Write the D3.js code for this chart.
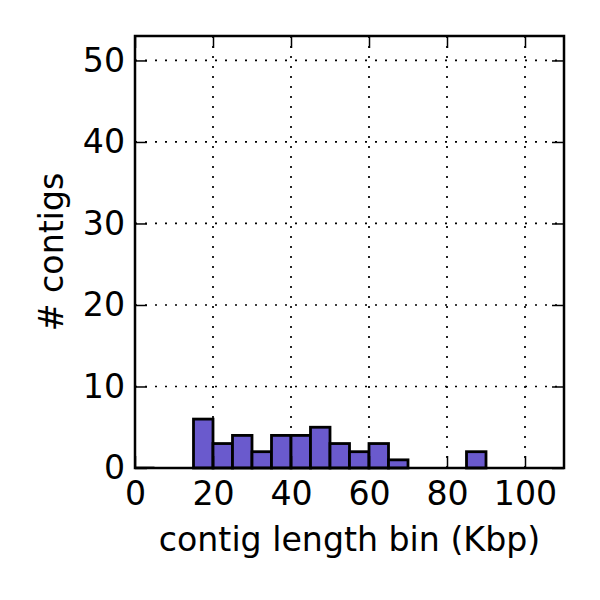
<!DOCTYPE html>
<html><head><meta charset="utf-8">
<script src="https://cdn.jsdelivr.net/npm/d3@7"></script>
<style>body{margin:0;background:#fff}svg{display:block}text{font-family:"DejaVu Sans",sans-serif;fill:#000}</style>
</head><body>
<svg id="c" width="600" height="600"></svg>
<script>
const binStarts = [0,5,10,15,20,25,30,35,40,45,50,55,60,65,70,75,80,85,90,95,100,105];
const counts    = [0,0,0,6,3,4,2,4,4,5,3,2,3,1,0,0,0,2,0,0,0,0];
const binWidth = 5;
const xTicks = [0,20,40,60,80,100];
const yTicks = [0,10,20,30,40,50];
const xLabel = "contig length bin (Kbp)";
const yLabel = "# contigs";

const L=135,R=564,T=36,B=468;
const FS=33.2;
const svg=d3.select("#c");
const x=d3.scaleLinear().domain([0,110]).range([L,R]);
const y=d3.scaleLinear().domain([0,53]).range([B,T]);

// grid
const g=svg.append("g");
xTicks.forEach(t=>{ if(t>0) g.append("line").attr("x1",x(t)).attr("x2",x(t)).attr("y1",T).attr("y2",B)
  .attr("stroke","#000").attr("stroke-width",1.7).attr("stroke-dasharray","2,8"); });
yTicks.forEach(t=>{ if(t>0) g.append("line").attr("y1",y(t)).attr("y2",y(t)).attr("x1",L).attr("x2",R)
  .attr("stroke","#000").attr("stroke-width",1.7).attr("stroke-dasharray","2,8"); });

// bars
const data=binStarts.map((s,i)=>({s,v:counts[i]}));
svg.append("g").selectAll("rect").data(data.filter(d=>d.v>0)).join("rect")
  .attr("x",d=>x(d.s)).attr("width",d=>x(d.s+binWidth)-x(d.s))
  .attr("y",d=>y(d.v)).attr("height",d=>y(0)-y(d.v))
  .attr("fill","#6a5acd").attr("stroke","#000").attr("stroke-width",2.8);
// zero-height first bin edge
svg.append("line").attr("x1",x(binStarts[0])).attr("x2",x(binStarts[0]+binWidth)).attr("y1",y(0)-1).attr("y2",y(0)-1)
  .attr("stroke","#888").attr("stroke-width",1.5);

// axes with inward ticks
const tl=12;
const xb=d3.axisBottom(x).tickValues(xTicks).tickSizeInner(-tl).tickSizeOuter(0).tickPadding(13);
const xt=d3.axisTop(x).tickValues(xTicks).tickSizeInner(-tl).tickSizeOuter(0).tickFormat("");
const yl=d3.axisLeft(y).tickValues(yTicks).tickSizeInner(-tl).tickSizeOuter(0).tickPadding(10);
const yr=d3.axisRight(y).tickValues(yTicks).tickSizeInner(-tl).tickSizeOuter(0).tickFormat("");
function style(sel){sel.select(".domain").remove();sel.selectAll("line").attr("stroke","#000").attr("stroke-width",1.5);
  sel.selectAll("text").attr("font-size",FS).attr("font-family","DejaVu Sans").attr("fill","#000");}
svg.append("g").attr("transform",`translate(0,${B})`).call(xb).call(style);
svg.append("g").attr("transform",`translate(0,${T})`).call(xt).call(style);
svg.append("g").attr("transform",`translate(${L},0)`).call(yl).call(style);
svg.append("g").attr("transform",`translate(${R},0)`).call(yr).call(style);

// frame
svg.append("rect").attr("x",L).attr("y",T).attr("width",R-L).attr("height",B-T)
  .attr("fill","none").attr("stroke","#000").attr("stroke-width",2.5);

svg.append("text").attr("x",(L+R)/2).attr("y",551).attr("text-anchor","middle").attr("font-size",FS).text(xLabel);
svg.append("text").attr("transform",`translate(63,${(T+B)/2}) rotate(-90)`).attr("text-anchor","middle").attr("font-size",FS).text(yLabel);
</script>
</body></html>
